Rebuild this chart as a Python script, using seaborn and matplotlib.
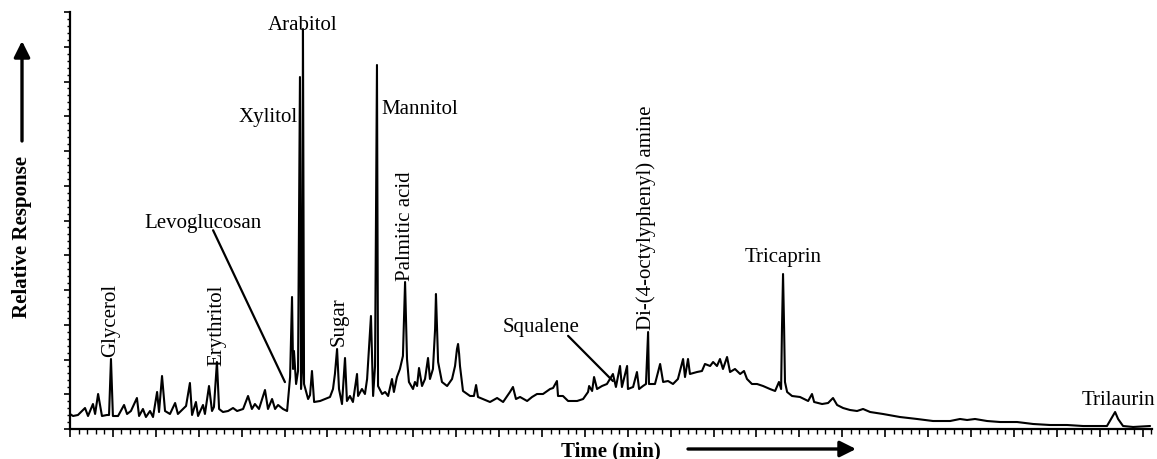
import matplotlib
matplotlib.use("Agg")
import matplotlib.pyplot as plt
from matplotlib.ticker import MultipleLocator
import seaborn as sns
import pandas as pd

# ---------------- data ----------------
# retention time (min) and relative response (arbitrary units)
time_min = [
    0.00, 0.14, 0.37, 0.70, 0.84, 1.07, 1.17, 1.31, 1.49, 1.72, 1.82, 1.91, 2.00, 2.24,
    2.52, 2.66, 2.84, 3.12, 3.22, 3.40, 3.54, 3.73, 3.87, 4.06, 4.15, 4.29, 4.43, 4.66,
    4.90, 5.03, 5.27, 5.41, 5.59, 5.69, 5.87, 5.97, 6.20, 6.29, 6.48, 6.62, 6.71, 6.85,
    6.95, 7.13, 7.37, 7.60, 7.79, 8.07, 8.30, 8.48, 8.62, 8.81, 9.09, 9.23, 9.42, 9.56,
    9.70, 9.93, 10.12,
    10.26, 10.35, 10.40, 10.44, 10.54, 10.63, 10.72, 10.77, 10.82, 10.86, 10.91, 11.00,
    11.10, 11.19, 11.28, 11.38, 11.66, 11.89, 12.12, 12.26, 12.35, 12.45, 12.54, 12.68,
    12.82, 12.91, 13.05, 13.19, 13.38, 13.43, 13.61, 13.75, 13.85, 14.03, 14.13, 14.22,
    14.31, 14.36, 14.55, 14.69, 14.83, 15.01, 15.10, 15.24, 15.38, 15.52, 15.62, 15.71,
    15.80, 15.99, 16.08, 16.18, 16.27, 16.41, 16.55, 16.69, 16.78, 16.92, 17.02, 17.06,
    17.11, 17.16, 17.34, 17.58, 17.81, 17.95, 18.04, 18.09, 18.14, 18.18, 18.32, 18.65,
    18.83, 18.93, 19.02, 19.25, 19.58,
    19.91, 20.19, 20.51, 20.65, 20.79, 20.98, 21.31, 21.54, 21.77, 22.05, 22.38, 22.52,
    22.70, 22.75, 22.98, 23.22, 23.64, 23.92, 24.15, 24.20, 24.34, 24.43, 24.57, 24.80,
    25.03, 25.31, 25.45, 25.64, 25.73, 25.97, 26.01, 26.25, 26.43, 26.53, 26.71, 26.85,
    26.95, 26.99, 27.27, 27.51, 27.65, 27.88, 28.11, 28.34, 28.58, 28.67, 28.81, 28.90,
    29.23,
    29.46, 29.60, 29.84, 29.98, 30.16, 30.30, 30.44, 30.63, 30.77, 31.00, 31.24, 31.42,
    31.56, 31.79, 32.03, 32.31, 32.63, 32.87, 33.05, 33.15, 33.19, 33.24, 33.29, 33.33,
    33.43, 33.66, 34.03, 34.41, 34.59, 34.69, 35.06, 35.34, 35.57, 35.76, 36.04, 36.36,
    36.69, 36.97, 37.30, 37.90, 38.69, 39.49, 40.23, 41.03, 41.49, 41.82, 42.19, 42.75,
    43.36, 44.15, 44.90, 45.69, 46.48, 47.23, 48.34, 48.53, 48.72, 48.86, 49.09, 49.56,
    50.35,
]
response = [
    4.32, 3.74, 4.03, 6.04, 3.74, 7.19, 4.32, 10.07, 3.74, 4.03, 4.03, 20.14, 3.74, 3.74,
    6.91, 4.32, 5.18, 8.92, 3.74, 5.76, 3.45, 5.18, 3.45, 10.65, 4.89, 15.25, 5.18, 4.32,
    7.48, 4.32, 5.76, 6.62, 13.24, 4.03, 7.77, 3.74, 6.91, 4.32, 12.37, 5.18, 6.33, 19.28,
    5.76, 4.89, 5.18, 6.04, 5.18, 5.76, 9.50, 5.76, 7.19, 5.76, 11.22, 5.76, 8.63, 5.76,
    6.91, 5.76, 5.18,
    14.96, 37.99, 17.27, 22.45, 12.95, 16.69, 101.29, 11.51, 17.27, 115.11, 12.95, 10.94,
    8.63, 9.78, 16.69, 7.77, 8.06, 8.63, 9.21, 11.51, 15.83, 23.02, 11.51, 7.19,
    20.43, 8.06, 9.50, 7.77, 15.83, 9.50, 11.51, 10.07, 14.39, 32.52, 9.50, 18.13,
    104.75, 12.37, 10.07, 10.65, 9.50, 14.39, 10.65, 14.96, 17.27, 21.01, 42.30, 20.14,
    13.53, 11.51, 13.53, 12.37, 17.55, 12.37, 14.39, 20.43, 14.39, 17.27, 28.78, 38.85,
    28.78, 19.28, 13.53, 12.37, 14.39, 18.13, 23.02, 24.46, 21.58, 18.13, 10.94, 9.50,
    9.50, 12.66, 9.21, 8.63, 7.77,
    8.92, 7.77, 10.65, 12.09, 8.63, 9.21, 8.06, 9.21, 10.07, 10.07, 11.51, 11.80,
    13.81, 9.50, 9.50, 8.06, 8.06, 8.63, 10.65, 12.37, 10.94, 14.96, 11.51, 12.37,
    12.95, 15.83, 12.09, 18.13, 12.09, 18.13, 11.51, 12.09, 16.40, 11.51, 12.37, 12.95,
    27.91, 12.95, 12.95, 18.71, 13.53, 13.81, 12.95, 14.39, 20.14, 14.96, 20.14, 15.83,
    16.40,
    16.69, 18.71, 18.13, 19.28, 18.13, 20.14, 17.27, 20.72, 16.40, 17.27, 15.83, 16.69,
    14.39, 12.95, 12.95, 12.37, 11.51, 10.94, 13.53, 11.51, 28.78, 44.60, 28.78, 13.53,
    10.65, 9.50, 9.21, 8.06, 10.07, 7.77, 7.19, 7.48, 8.92, 6.91, 6.04, 5.47,
    5.18, 5.76, 4.89, 4.32, 3.45, 2.88, 2.30, 2.30, 2.88, 2.59, 2.88, 2.30,
    2.01, 2.01, 1.44, 1.15, 1.15, 0.86, 0.86, 2.88, 4.89, 2.88, 0.86, 0.58,
    0.86,
]

# compound labels
upright_names = ["Arabitol", "Xylitol", "Mannitol", "Tricaprin", "Trilaurin"]
rotated_names = ["Glycerol", "Erythritol", "Sugar", "Palmitic acid",
                 "Di-(4-octylyphenyl) amine"]
pointer_names = ["Levoglucosan", "Squalene"]

# ---------------- drawing ----------------
sns.set_theme(style="ticks")
plt.rcParams["font.family"] = ["Liberation Serif", "DejaVu Serif"]
plt.rcParams["axes.linewidth"] = 1.6
plt.rcParams["text.color"] = "black"
plt.rcParams["axes.edgecolor"] = "black"
plt.rcParams["xtick.color"] = "black"
plt.rcParams["ytick.color"] = "black"

fig = plt.figure(figsize=(11.57, 4.60), dpi=100)
ax = fig.add_axes([70 / 1157, 30 / 460, (1152 - 70) / 1157, (430 - 13) / 460])

df = pd.DataFrame({"time": time_min, "response": response})
sns.lineplot(data=df, x="time", y="response", sort=False, estimator=None,
             color="black", linewidth=1.5, ax=ax)

ax.set_xlim(0, 50.44)
ax.set_ylim(0, 120)
ax.xaxis.set_major_locator(MultipleLocator(2))
ax.xaxis.set_minor_locator(MultipleLocator(0.4))
ax.yaxis.set_major_locator(MultipleLocator(10))
ax.yaxis.set_minor_locator(MultipleLocator(2))
ax.tick_params(axis="x", which="major", length=6, width=1.2, color="black",
               labelbottom=False, direction="out")
ax.tick_params(axis="x", which="minor", length=3.5, width=1.0, color="black",
               direction="out")
ax.tick_params(axis="y", which="major", length=4, width=1.2, color="black",
               labelleft=False, direction="out")
ax.tick_params(axis="y", which="minor", length=2.5, width=1.0, color="black",
               direction="out")
ax.set_xlabel("")
ax.set_ylabel("")
for side in ("top", "right"):
    ax.spines[side].set_visible(False)
for side in ("left", "bottom"):
    ax.spines[side].set_color("black")
ax.set_facecolor("white")

fs = 15
tc = "black"
# upright labels
ax.text(10.86, 116.5, upright_names[0], ha="center", va="center", fontsize=fs, color=tc)
ax.text(10.62, 89.8, upright_names[1], ha="right", va="center", fontsize=fs, color=tc)
ax.text(14.50, 92.1, upright_names[2], ha="left", va="center", fontsize=fs, color=tc)
ax.text(33.24, 49.5, upright_names[3], ha="center", va="center", fontsize=fs, color=tc)
ax.text(48.86, 8.6, upright_names[4], ha="center", va="center", fontsize=fs,
        color=tc, clip_on=False)

# rotated labels sitting on top of their peaks
ax.text(1.91, 20.9, rotated_names[0], rotation=90, ha="center", va="bottom",
        fontsize=fs, color=tc)
ax.text(6.85, 18.3, rotated_names[1], rotation=90, ha="center", va="bottom",
        fontsize=fs, color=tc)
ax.text(12.55, 24.3, rotated_names[2], rotation=90, ha="center", va="bottom",
        fontsize=fs, color=tc)
ax.text(15.62, 43.0, rotated_names[3], rotation=90, ha="center", va="bottom",
        fontsize=fs, color=tc)
ax.text(26.88, 28.9, rotated_names[4], rotation=90, ha="center", va="bottom",
        fontsize=fs, color=tc)

# labels with leader lines
ax.text(6.20, 59.3, pointer_names[0], ha="center", va="center", fontsize=fs, color=tc)
ax.plot([6.67, 10.02], [57.2, 13.5], color="black", linewidth=1.6)
ax.text(21.96, 29.6, pointer_names[1], ha="center", va="center", fontsize=fs, color=tc)
ax.plot([23.22, 25.31], [26.8, 13.8], color="black", linewidth=1.6)

# axis titles with arrows
fig.text(22 / 1157, 1 - 237 / 460, "Relative Response", rotation=90,
         ha="center", va="center", fontsize=fs, fontweight="bold", color=tc)
fig.text(611 / 1157, 1 - 451 / 460, "Time (min)", ha="center", va="center",
         fontsize=fs, fontweight="bold", color=tc)
ax.annotate("", xy=(22, 460 - 42), xytext=(22, 460 - 142), xycoords="figure pixels",
            textcoords="figure pixels",
            arrowprops=dict(arrowstyle="-|>", color="black", lw=2.4,
                            mutation_scale=24, shrinkA=0, shrinkB=0))
ax.annotate("", xy=(856, 460 - 450), xytext=(688, 460 - 450), xycoords="figure pixels",
            textcoords="figure pixels",
            arrowprops=dict(arrowstyle="-|>", color="black", lw=2.4,
                            mutation_scale=24, shrinkA=0, shrinkB=0))

fig.savefig("out.png", dpi=100, facecolor="white")
